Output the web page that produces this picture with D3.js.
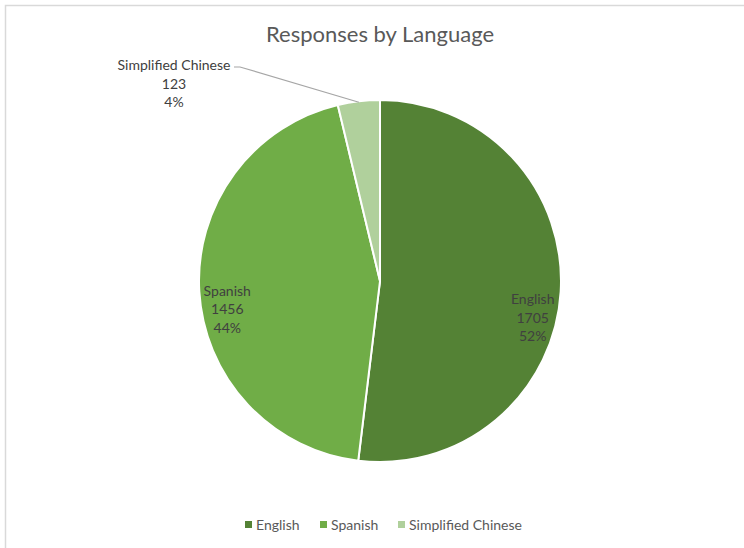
<!DOCTYPE html>
<html>
<head>
<meta charset="utf-8">
<script src="https://cdn.jsdelivr.net/npm/d3@7"></script>
<style>
  html, body { margin: 0; padding: 0; background: #fff; }
  svg { display: block; font-family: Lato, "Open Sans", sans-serif; }
</style>
</head>
<body>
<svg id="chart" width="744" height="548"></svg>
<script>
// Survey responses by language
const categories = ["English", "Spanish", "Simplified Chinese"];
const counts = [1705, 1456, 123];
const colors = ["#548235", "#70AD47", "#B0D09C"];

const svg = d3.select("#chart");
const W = 744, H = 548;

// chart frame
svg.append("path")
  .attr("d", `M5.5,${H} V5.5 H${W}`)
  .attr("fill", "none")
  .attr("stroke", "#d9d9d9")
  .attr("stroke-width", 1.5);

svg.append("text")
  .attr("x", 380).attr("y", 42)
  .attr("text-anchor", "middle")
  .attr("font-size", 22)
  .attr("fill", "#595959")
  .text("Responses by Language");

const cx = 380, cy = 281, R = 181;
const g = svg.append("g").attr("transform", `translate(${cx},${cy})`);

const total = d3.sum(counts);
const data = categories.map((c, i) => ({ name: c, value: counts[i], color: colors[i] }));
const pie = d3.pie().value(d => d.value).sort(null);
const arcs = pie(data);
const arc = d3.arc().innerRadius(0).outerRadius(R);

g.selectAll("path.slice")
  .data(arcs)
  .join("path")
  .attr("class", "slice")
  .attr("d", arc)
  .attr("fill", d => d.data.color)
  .attr("stroke", "#fff")
  .attr("stroke-width", 2)
  .attr("stroke-linejoin", "round");

const pct = d => Math.round(d.value / total * 100) + "%";

// inside labels for the two large slices (best-fit nudge below the centroid)
const labelArc = d3.arc().innerRadius(153).outerRadius(153);
const nudge = { English: 14, Spanish: 6 };
const inside = arcs.filter(d => d.data.value / total > 0.1);
inside.forEach(d => {
  const [x, y] = labelArc.centroid(d);
  const t = g.append("text")
    .attr("text-anchor", "middle")
    .attr("font-size", 14)
    .attr("fill", "#404040");
  [d.data.name, d.data.value, pct(d.data)].forEach((s, k) => {
    t.append("tspan").attr("x", x).attr("y", y + nudge[d.data.name] + k * 18.5).text(s);
  });
});

// outside label with leader line for the small slice
const outside = arcs.filter(d => d.data.value / total <= 0.1);
outside.forEach(d => {
  const edge = d3.arc().innerRadius(R - 1).outerRadius(R - 1).centroid(d);
  const lx = 174 - cx, ly = 65 - cy;
  g.append("polyline")
    .attr("points", [[edge[0], edge[1]], [lx + 66, ly + 2], [lx + 60, ly + 2]].map(p => p.join(",")).join(" "))
    .attr("fill", "none")
    .attr("stroke", "#a6a6a6")
    .attr("stroke-width", 1.2);
  const t = g.append("text")
    .attr("text-anchor", "middle")
    .attr("font-size", 14)
    .attr("fill", "#404040");
  [d.data.name, d.data.value, pct(d.data)].forEach((s, k) => {
    t.append("tspan").attr("x", lx).attr("y", ly + 5 + k * 18.5).text(s);
  });
});

// legend
const legendX = [245, 320, 398];
const lg = svg.append("g").attr("transform", "translate(0,525)");
data.forEach((d, i) => {
  lg.append("rect")
    .attr("x", legendX[i]).attr("y", -4)
    .attr("width", 7).attr("height", 7)
    .attr("fill", d.color);
  lg.append("text")
    .attr("x", legendX[i] + 11).attr("y", 5)
    .attr("font-size", 14)
    .attr("fill", "#595959")
    .text(d.name);
});
</script>
</body>
</html>
